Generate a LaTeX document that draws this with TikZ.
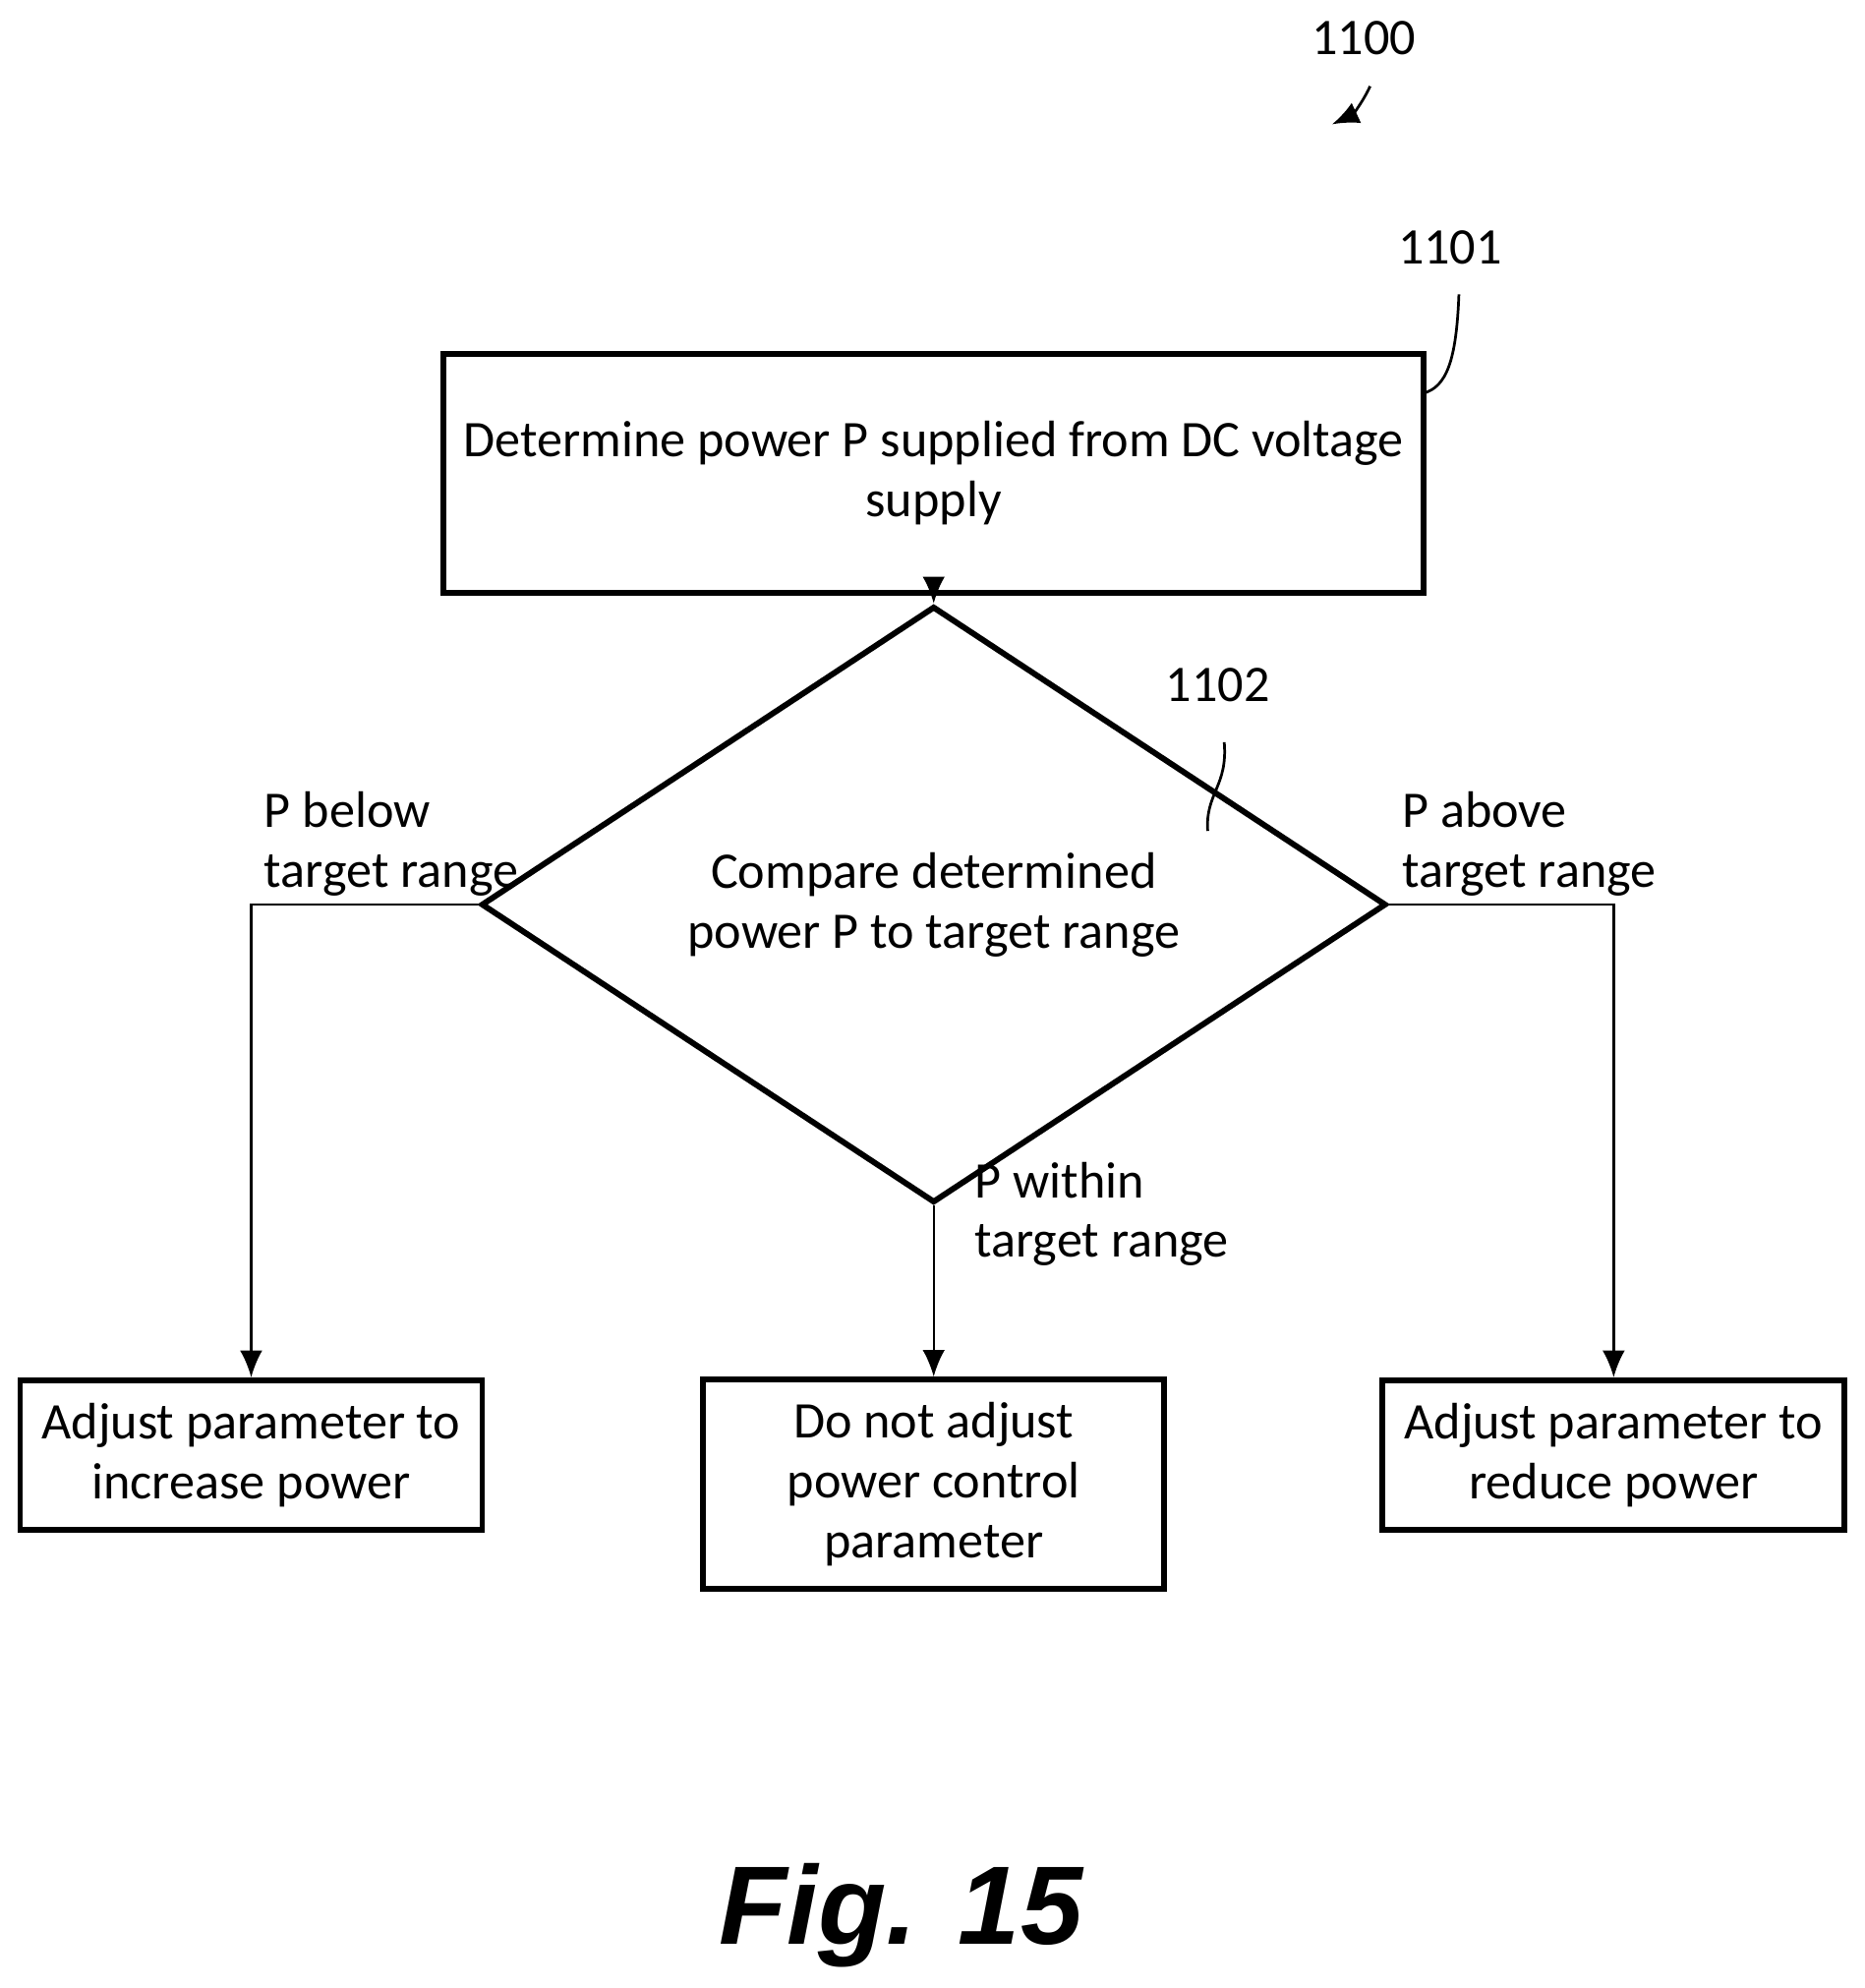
\documentclass[tikz,border=0pt]{standalone}
\usepackage{fontspec}
\setmainfont{Carlito}
\newfontfamily\figfont{Liberation Sans}
\usetikzlibrary{shapes.geometric,arrows.meta}
\tikzset{
  stepbox/.style={draw, line width=1.3pt, align=center, inner sep=0pt, font=\fontsize{11.5}{13.4}\selectfont},
  decide/.style={diamond, draw, line width=1.3pt, align=center, inner sep=0pt, font=\fontsize{11.5}{13.4}\selectfont},
  flow/.style={line width=0.5pt, -{Latex[length=6pt,width=5pt]}},
  lbl/.style={align=left, anchor=west, font=\fontsize{11.5}{13.4}\selectfont},
  refnum/.style={font=\fontsize{11.5}{13.4}\selectfont}
}
\begin{document}
\begin{tikzpicture}[x=0.01cm, y=-0.01cm]
  \useasboundingbox (0,0) rectangle (1470,1567);
  % reference numerals
  \node[refnum] (n1100) at (1075,30) {1100};
  \draw[line width=0.6pt, -{Latex[length=6pt,width=5pt]}] (1080,68) to[bend left=20] (1050,98);
  \node[refnum] (n1101) at (1143,195) {1101};
  \node[refnum] (n1102) at (960,540) {1102};
  % boxes
  \node[stepbox, minimum width=7.72cm, minimum height=1.88cm] (measure) at (736,373) {Determine power P supplied from DC voltage\\supply};
  \node[decide, minimum width=7.13cm, minimum height=3.27cm] (compare) at (736,713) {Compare determined\\power P to target range};
  \node[stepbox, minimum width=3.64cm, minimum height=1.18cm] (increase) at (198,1147) {Adjust parameter to\\increase power};
  \node[stepbox, minimum width=3.63cm, minimum height=1.65cm] (keep) at (736,1170) {Do not adjust\\power control\\parameter};
  \node[stepbox, minimum width=3.64cm, minimum height=1.18cm] (reduce) at (1272,1147) {Adjust parameter to\\reduce power};
  % leaders
  \draw[line width=0.6pt] (1150,232) .. controls (1148,285) and (1140,305) .. (1122,310);
  \draw[line width=0.6pt] (965,585) .. controls (968,620) and (950,625) .. (952,655);
  % connectors
  \draw[flow] (measure) -- (compare);
  \draw[flow] (compare.west) -| (increase.north);
  \draw[flow] (compare.east) -| (reduce.north);
  \draw[flow] (compare.south) -- (keep.north);
  \node[lbl] (below) at (196,665) {P below\\target range};
  \node[lbl] (above) at (1093,665) {P above\\target range};
  \node[lbl] (within) at (756,957) {P within\\target range};
  \node[font=\figfont\fontsize{25}{28}\selectfont\bfseries\itshape] (fig) at (710,1510) {Fig. 15};
\end{tikzpicture}
\end{document}
